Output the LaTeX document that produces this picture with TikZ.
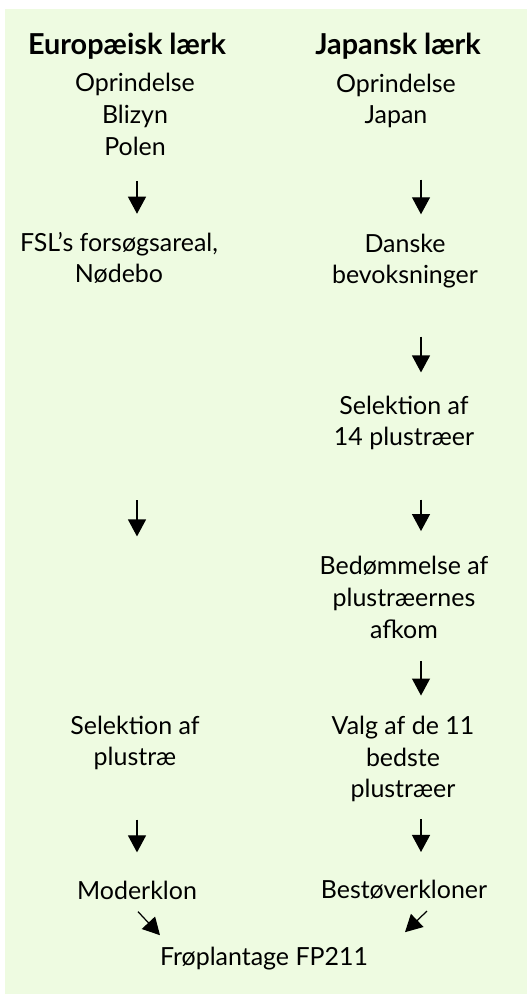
\documentclass[tikz,border=0pt]{standalone}
\usepackage{fontspec}
\setmainfont{Lato}
\usetikzlibrary{arrows.meta}
\definecolor{lysegroen}{RGB}{238,251,225}

\begin{document}
\begin{tikzpicture}[
    tekst/.style={align=center, inner sep=0pt, font=\fontsize{14.2}{18.1}\selectfont},
    overskrift/.style={inner sep=0pt, font=\fontsize{16.4}{20}\selectfont\bfseries},
    pil/.style={line width=0.7pt, -{Triangle[width=0.36cm,length=0.34cm]}}
]
                
    \useasboundingbox (0,0) rectangle (10.6,-19.88);
    \fill[lysegroen] (0.1,-0.18) rectangle (10.54,-19.88);
    
    \coordinate (venstre) at (2.74,0);
    \coordinate (hoejre) at (8.42,0);
    
    \node[overskrift] (hl) at (2.54,-0.92) {Europæisk lærk};
    \node[overskrift] (hr) at (7.96,-0.92) {Japansk lærk};
    
    \node[tekst] (eo) at (2.70,-2.29) {Oprindelse\\Blizyn\\Polen};
    \node[tekst] (jo) at (7.92,-2.02) {Oprindelse\\Japan};
    \node[tekst] (fsl) at (2.38,-5.16) {FSL's forsøgsareal,\\Nødebo};
    \node[tekst] (dan) at (8.10,-5.22) {Danske\\bevoksninger};
    \node[tekst] (selr) at (8.08,-8.46) {Selektion af\\14 plustræer};
    \node[tekst] (bed) at (8.08,-11.95) {Bedømmelse af\\plustræernes\\afkom};
    \node[tekst] (sell) at (2.70,-14.86) {Selektion af\\plustræ};
    \node[tekst] (valg) at (8.06,-15.18) {Valg af de 11\\bedste\\plustræer};
    \node[tekst] (moder) at (2.74,-17.80) {Moderklon};
    \node[tekst] (best) at (8.08,-17.80) {Bestøverkloner};
    \node[tekst] (fro) at (5.28,-19.18) {Frøplantage FP211};
    
    \draw[pil, shorten <=0.50cm, shorten >=0.36cm] (eo.south -| venstre) -- (fsl.north -| venstre);
    \draw[pil, shorten <=1.02cm, shorten >=0.38cm] (jo.south -| hoejre) -- (dan.north -| hoejre);
    \draw[pil, shorten <=0.96cm, shorten >=0.46cm] (dan.south -| hoejre) -- (selr.north -| hoejre);
    \draw[pil, shorten <=4.32cm, shorten >=3.58cm] (fsl.south -| venstre) -- (sell.north -| venstre);
    \draw[pil, shorten <=0.98cm, shorten >=0.50cm] (selr.south -| hoejre) -- (bed.north -| hoejre);
    \draw[pil, shorten <=0.44cm, shorten >=0.40cm] (bed.south -| hoejre) -- (valg.north -| hoejre);
    \draw[pil, shorten <=0.98cm, shorten >=0.56cm] (sell.south -| venstre) -- (moder.north -| venstre);
    \draw[pil, shorten <=0.34cm, shorten >=0.56cm] (valg.south -| hoejre) -- (best.north -| hoejre);
    \draw[pil] ([xshift=0.02cm,yshift=-0.24cm]moder.south) -- ([xshift=-2.08cm,yshift=0.24cm]fro.north);
    \draw[pil] ([xshift=0.46cm,yshift=-0.22cm]best.south) -- ([xshift=2.82cm,yshift=0.30cm]fro.north);
    
\end{tikzpicture}
\end{document}
